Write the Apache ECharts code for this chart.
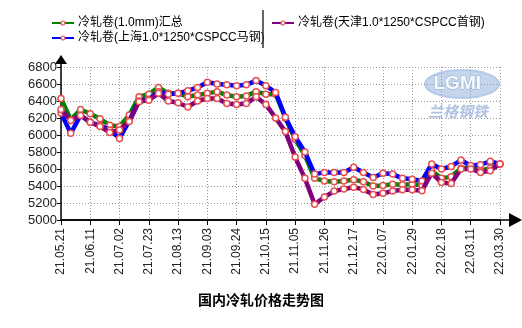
<!DOCTYPE html>
<html><head><meta charset="utf-8">
<script src="https://cdn.jsdelivr.net/npm/echarts@6/dist/echarts.min.js"></script>
<style>html,body{margin:0;padding:0;background:#fff}#c{width:522px;height:328px}</style>
</head><body><div id="c"></div>
<script>
var categories = ['21.05.21','21.05.28','21.06.04','21.06.11','21.06.18','21.06.25','21.07.02','21.07.09','21.07.16','21.07.23','21.07.30','21.08.06','21.08.13','21.08.20','21.08.27','21.09.03','21.09.10','21.09.17','21.09.24','21.09.30','21.10.08','21.10.15','21.10.22','21.10.29','21.11.05','21.11.12','21.11.19','21.11.26','21.12.03','21.12.10','21.12.17','21.12.24','21.12.31','22.01.07','22.01.14','22.01.21','22.01.29','22.02.07','22.02.11','22.02.18','22.02.25','22.03.04','22.03.11','22.03.18','22.03.25','22.03.30'];
var seriesNames = ['冷轧卷(1.0mm)汇总','冷轧卷(上海1.0*1250*CSPCC马钢)','冷轧卷(天津1.0*1250*CSPCC首钢)'];
var greenTotal = [6430,6180,6300,6250,6190,6115,6100,6235,6450,6480,6560,6490,6490,6450,6470,6490,6510,6470,6450,6460,6510,6480,6480,6200,5950,5760,5490,5460,5450,5460,5475,5450,5400,5405,5420,5415,5420,5410,5580,5490,5510,5610,5620,5580,5610,5660];
var blueShanghai = [6260,6020,6230,6150,6110,6060,5960,6170,6400,6420,6510,6480,6490,6520,6560,6620,6600,6590,6580,6590,6640,6580,6500,6210,5980,5800,5540,5560,5560,5560,5620,5560,5500,5550,5540,5490,5480,5460,5660,5600,5630,5705,5640,5650,5690,5660];
var purpleTianjin = [6300,6170,6230,6150,6100,6030,6060,6160,6390,6410,6490,6400,6380,6330,6400,6430,6430,6370,6360,6370,6450,6360,6200,6040,5740,5490,5185,5270,5340,5365,5385,5360,5300,5315,5340,5355,5355,5345,5550,5440,5430,5600,5600,5560,5580,5660];
var yTicks = [5000,6800,200];
var title = '国内冷轧价格走势图';

var colors = ['#008000','#0000ff','#800080'];
var datas = [greenTotal, blueShanghai, purpleTianjin];
var series = seriesNames.map(function(n,i){
  return {name:n,type:'line',data:datas[i],symbol:'circle',symbolSize:6,showSymbol:true,
    lineStyle:{color:colors[i],width:4.5},
    itemStyle:{color:'#ffffff',borderColor:'#e85050',borderWidth:1.5},
    emphasis:{disabled:true},z:2+i};
});
var chart = echarts.init(document.getElementById('c'),null,{renderer:'canvas'});
var font = 'Liberation Sans, Arial, sans-serif';
var cjk = 'Liberation Sans, Noto Sans CJK SC, sans-serif';
var legendBase = {orient:'vertical',top:12,itemWidth:22,itemHeight:5,itemGap:3,
  itemStyle:{borderWidth:1.2},
  textStyle:{fontSize:12,color:'#000',fontFamily:cjk,padding:[0,0,0,-1]},selectedMode:false};
chart.setOption({
  animation:false,
  backgroundColor:'#fff',
  title:{text:title,left:'center',top:288,textStyle:{fontSize:14,fontWeight:'bold',color:'#000',fontFamily:'Noto Sans CJK SC'}},
  legend:[
    Object.assign({},legendBase,{data:[seriesNames[0],seriesNames[1]],left:46}),
    Object.assign({},legendBase,{data:[seriesNames[2]],left:266})
  ],
  grid:{left:61,right:22,top:67,bottom:108,containLabel:false},
  xAxis:{type:'category',data:categories,boundaryGap:false,
    axisLine:{lineStyle:{color:'#000',width:1.5}},
    axisTick:{interval:2,length:5,lineStyle:{color:'#000'}},
    axisLabel:{interval:2,rotate:90,fontSize:12,color:'#222',fontFamily:font,margin:8},
    splitLine:{show:true,interval:2,lineStyle:{color:'#999',type:[1,2],width:1}}},
  yAxis:{type:'value',min:yTicks[0],max:yTicks[1],interval:yTicks[2],
    axisLine:{show:true,lineStyle:{color:'#000',width:1.5}},
    axisTick:{show:true,length:4,lineStyle:{color:'#000'}},
    axisLabel:{fontSize:13,color:'#222',fontFamily:font,margin:4,formatter:function(v){return String(v);}},
    splitLine:{show:true,lineStyle:{color:'#999',type:[1,2],width:1}}},
  graphic:[
    {type:'line',shape:{x1:61,y1:220,x2:512,y2:220},style:{stroke:'#000',lineWidth:1.5},z:10},
    {type:'polygon',shape:{points:[[509,213],[522,220],[509,227]]},style:{fill:'#000'},z:10},
    {type:'line',shape:{x1:61,y1:67,x2:61,y2:62},style:{stroke:'#000',lineWidth:1.5},z:10},
    {type:'polygon',shape:{points:[[55,64],[61,55],[67,64]]},style:{fill:'#000'},z:10},
    {type:'line',shape:{x1:263,y1:10,x2:263,y2:48},style:{stroke:'#333',lineWidth:1.5},z:10},
    {type:'ellipse',shape:{cx:462,cy:84,rx:37,ry:14},style:{fill:'rgba(150,180,220,0.55)',stroke:'rgba(170,195,230,0.8)',lineWidth:2},z:0},
    {type:'text',left:433,top:74,style:{text:'LGMI',font:'bold 19px Liberation Sans',fill:'rgba(255,255,255,0.9)',stroke:'rgba(120,150,200,0.6)',lineWidth:1},z:1},
    {type:'text',left:428,top:104,style:{text:'兰格钢铁',font:'italic bold 15px Noto Sans CJK SC',fill:'rgba(140,170,215,0.7)'},z:1}
  ],
  series:series
});
</script></body></html>
